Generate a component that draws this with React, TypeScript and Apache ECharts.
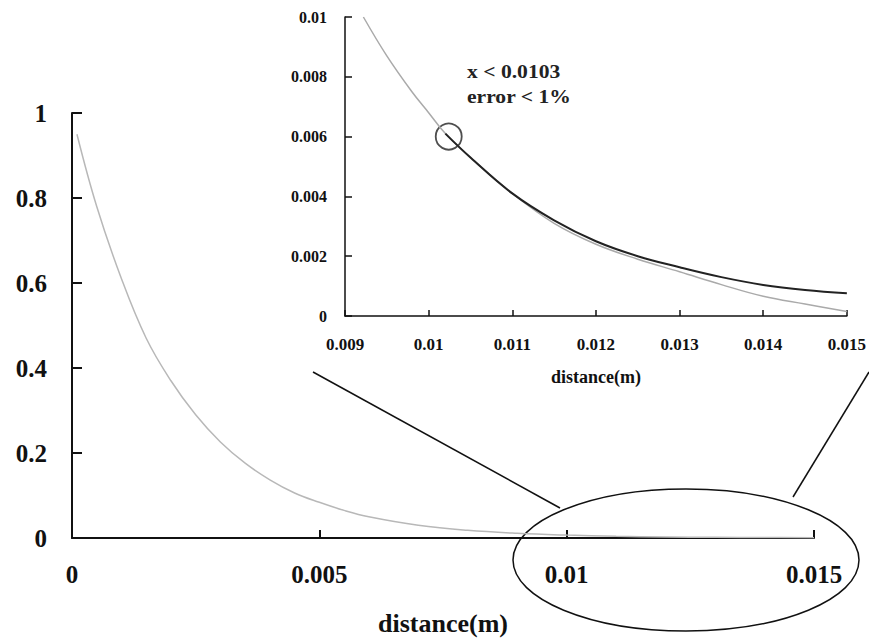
import React, { useEffect, useRef } from "react";
import * as echarts from "echarts";

// Main chart: normalized value vs distance
const mainX = [0.0001, 0.0005, 0.001, 0.0015, 0.002, 0.0025, 0.003, 0.0035, 0.004, 0.0045, 0.005, 0.0055, 0.006, 0.007, 0.008, 0.009, 0.01, 0.011, 0.012, 0.013, 0.014, 0.015];
const mainY = [0.95, 0.78, 0.61, 0.47, 0.37, 0.29, 0.226, 0.176, 0.137, 0.106, 0.084, 0.065, 0.05, 0.03, 0.018, 0.011, 0.0068, 0.004, 0.0025, 0.0015, 0.001, 0.0007];

// Inset: zoom of 0.009 - 0.015
const insetGrayX = [0.00922, 0.0095, 0.0098, 0.01, 0.0102, 0.0105, 0.011, 0.0115, 0.012, 0.0125, 0.013, 0.0135, 0.014, 0.0145, 0.015];
const insetGrayY = [0.01, 0.0087, 0.0075, 0.0068, 0.0061, 0.0053, 0.0041, 0.0031, 0.0024, 0.0019, 0.00148, 0.00105, 0.00066, 0.0004, 0.00015];
const insetDarkX = [0.0102, 0.0105, 0.011, 0.0115, 0.012, 0.0125, 0.013, 0.0135, 0.014, 0.0145, 0.015];
const insetDarkY = [0.0061, 0.0053, 0.0041, 0.0032, 0.0025, 0.002, 0.00163, 0.0013, 0.00104, 0.00087, 0.00076];
const markX = [0.01024];
const markY = [0.006];

const annotationLines = ["x < 0.0103", "error < 1%"];
const axisName = "distance(m)";

const FONT = "'Liberation Serif', 'Times New Roman', serif";

export default function App() {
  const ref = useRef<HTMLDivElement>(null);
  useEffect(() => {
    if (!ref.current) return;
    const chart = echarts.init(ref.current, undefined, { renderer: "svg" });
    const fmt = (v: number) => String(+v.toFixed(4));
    const zip = (xs: number[], ys: number[]) => xs.map((x, i) => [x, ys[i]]);
    chart.setOption({
      animation: false,
      backgroundColor: "#ffffff",
      grid: [
        { left: 72, right: 55, top: 113, bottom: 101 },
        { left: 345, right: 19, top: 17, bottom: 325 },
      ],
      xAxis: [
        {
          gridIndex: 0,
          type: "value",
          min: 0,
          max: 0.015,
          interval: 0.005,
          name: axisName,
          nameLocation: "middle",
          nameGap: 72,
          nameTextStyle: { fontFamily: FONT, fontWeight: "bold", fontSize: 26, color: "#111" },
          axisLine: { lineStyle: { color: "#111", width: 2 } },
          axisTick: { inside: true, length: 8, lineStyle: { color: "#111", width: 2 } },
          axisLabel: { formatter: fmt, margin: 24, fontFamily: FONT, fontWeight: "bold", fontSize: 25, color: "#111" },
          splitLine: { show: false },
        },
        {
          gridIndex: 1,
          type: "value",
          min: 0.009,
          max: 0.015,
          interval: 0.001,
          name: axisName,
          nameLocation: "middle",
          nameGap: 52,
          nameTextStyle: { fontFamily: FONT, fontWeight: "bold", fontSize: 18, color: "#111" },
          axisLine: { lineStyle: { color: "#111", width: 1.5 } },
          axisTick: { inside: true, length: 6, lineStyle: { color: "#111", width: 1.5 } },
          axisLabel: { formatter: fmt, margin: 20, fontFamily: FONT, fontWeight: "bold", fontSize: 17, color: "#111" },
          splitLine: { show: false },
        },
      ],
      yAxis: [
        {
          gridIndex: 0,
          type: "value",
          min: 0,
          max: 1,
          interval: 0.2,
          axisLine: { show: true, lineStyle: { color: "#111", width: 2 } },
          axisTick: { show: true, inside: true, length: 10, lineStyle: { color: "#111", width: 2 } },
          axisLabel: { formatter: fmt, margin: 25, fontFamily: FONT, fontWeight: "bold", fontSize: 25, color: "#111" },
          splitLine: { show: false },
        },
        {
          gridIndex: 1,
          type: "value",
          min: 0,
          max: 0.01,
          interval: 0.002,
          axisLine: { show: true, lineStyle: { color: "#111", width: 1.5 } },
          axisTick: { show: true, inside: true, length: 7, lineStyle: { color: "#111", width: 1.5 } },
          axisLabel: { formatter: fmt, margin: 18, fontFamily: FONT, fontWeight: "bold", fontSize: 16, color: "#111" },
          splitLine: { show: false },
        },
      ],
      series: [
        {
          type: "line",
          xAxisIndex: 0,
          yAxisIndex: 0,
          data: zip(mainX, mainY),
          smooth: 0.4,
          showSymbol: false,
          lineStyle: { color: "#b8b8b8", width: 1.5 },
        },
        {
          type: "line",
          xAxisIndex: 1,
          yAxisIndex: 1,
          data: zip(insetGrayX, insetGrayY),
          smooth: 0.4,
          showSymbol: false,
          lineStyle: { color: "#aaaaaa", width: 1.5 },
        },
        {
          type: "line",
          xAxisIndex: 1,
          yAxisIndex: 1,
          data: zip(insetDarkX, insetDarkY),
          smooth: 0.4,
          showSymbol: false,
          lineStyle: { color: "#222", width: 2 },
        },
        {
          type: "scatter",
          xAxisIndex: 1,
          yAxisIndex: 1,
          data: zip(markX, markY),
          symbol: "circle",
          symbolSize: 26,
          itemStyle: { color: "rgba(0,0,0,0)", borderColor: "#222", borderWidth: 1.8 },
        },
      ],
      graphic: [
        {
          type: "ellipse",
          shape: { cx: 686, cy: 560, rx: 173, ry: 71 },
          style: { fill: "none", stroke: "#111", lineWidth: 1.5 },
        },
        {
          type: "line",
          shape: { x1: 313, y1: 372, x2: 560, y2: 508 },
          style: { stroke: "#111", lineWidth: 1.5 },
        },
        {
          type: "line",
          shape: { x1: 869, y1: 372, x2: 793, y2: 497 },
          style: { stroke: "#111", lineWidth: 1.5 },
        },
        {
          type: "text",
          x: 467,
          y: 72,
          scaleX: 1.2,
          style: {
            text: annotationLines[0],
            font: `bold 18px ${FONT}`,
            fill: "#222",
            verticalAlign: "middle",
          },
        },
        {
          type: "text",
          x: 467,
          y: 97,
          scaleX: 1.2,
          style: {
            text: annotationLines[1],
            font: `bold 18px ${FONT}`,
            fill: "#222",
            verticalAlign: "middle",
          },
        },
      ],
    });
    return () => chart.dispose();
  }, []);
  return <div ref={ref} style={{ position: "absolute", left: 0, top: 0, width: 869, height: 641 }} />;
}
